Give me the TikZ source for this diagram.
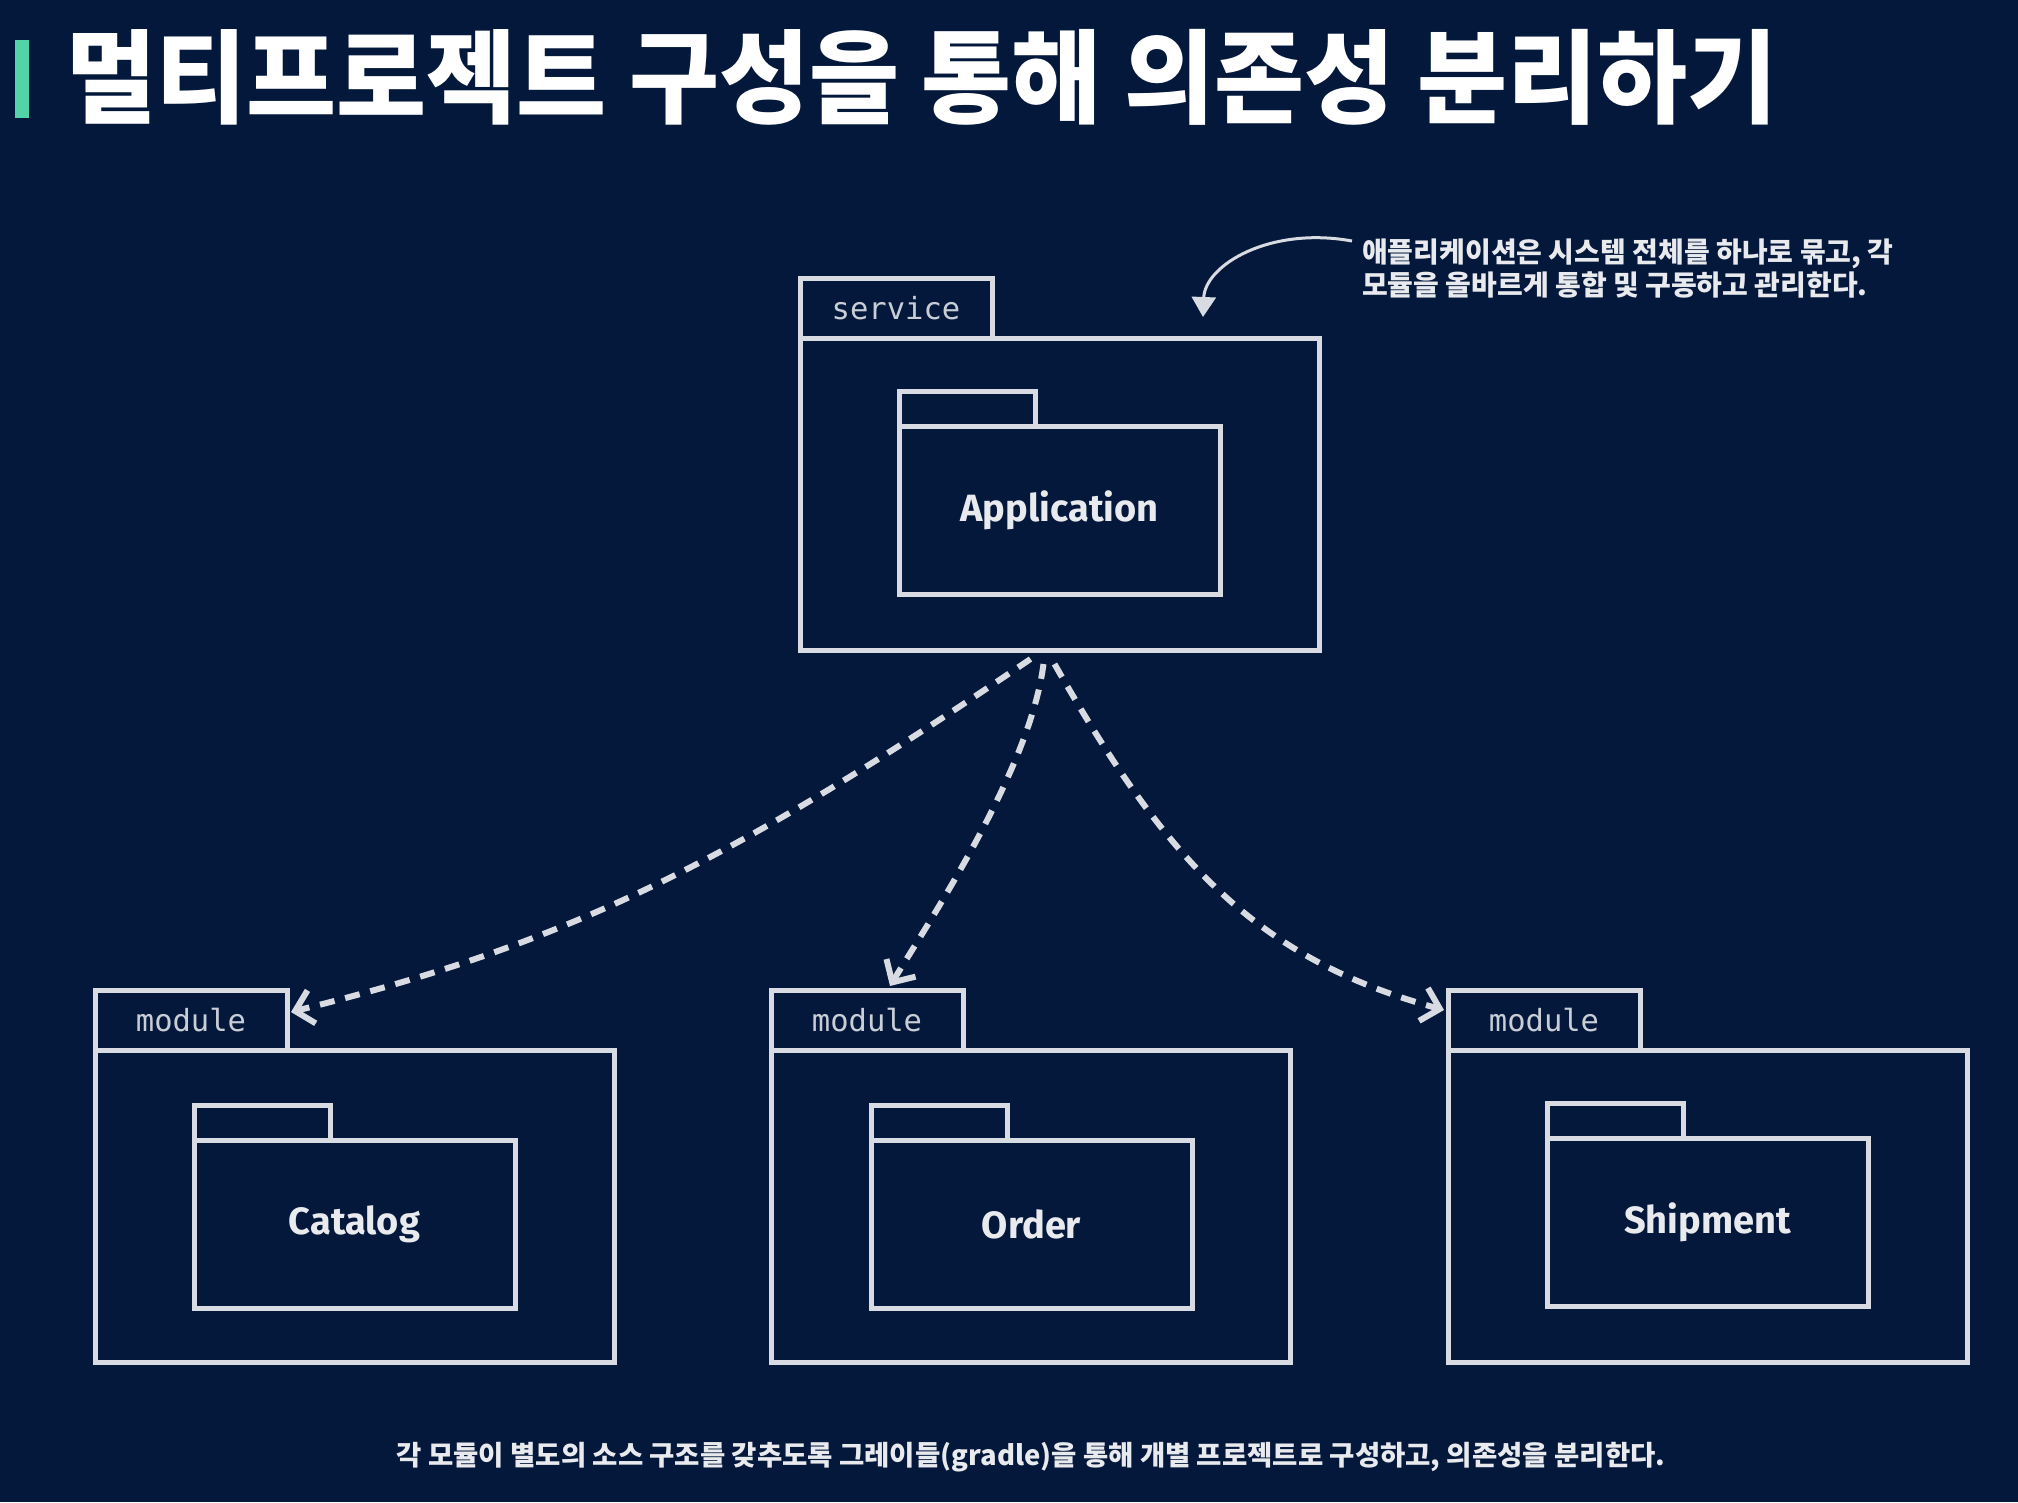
\documentclass[tikz,border=0pt]{standalone}
\usepackage{fontspec}
\usetikzlibrary{arrows.meta,calc}
\setmainfont{Noto Sans CJK KR}
\newfontfamily\krtitle[FakeStretch=0.96]{Noto Sans CJK KR}
\newfontfamily\kr{Noto Sans CJK KR}
\newfontfamily\lblfont{Fira Sans}
\newfontfamily\tabfont{DejaVu Sans Mono}
\definecolor{bg}{HTML}{03183B}
\definecolor{ln}{HTML}{D8DCE2}
\definecolor{lbl}{HTML}{E8EAEE}
\definecolor{tabtxt}{HTML}{C9CED6}
\definecolor{mint}{HTML}{53D3A8}
\begin{document}
\begin{tikzpicture}[x=1pt,y=-1pt,
  pkgmain/.style={draw=ln, line width=5pt, minimum width=519pt, minimum height=312pt, inner sep=0pt, outer sep=0pt, anchor=north west},
  pkgtab/.style={draw=ln, line width=5pt, minimum width=192pt, minimum height=60pt, inner sep=0pt, outer sep=0pt, anchor=south west, font={\tabfont\fontsize{30.5}{36}\selectfont}, text=tabtxt},
  innerpkg/.style={draw=ln, line width=5pt, minimum width=321pt, minimum height=168pt, inner sep=0pt, outer sep=0pt, anchor=north west, font={\lblfont\bfseries\fontsize{38}{44}\selectfont}, text=lbl},
  innertab/.style={draw=ln, line width=5pt, minimum width=136pt, minimum height=35pt, inner sep=0pt, outer sep=0pt, anchor=south west},
  dep/.style={draw=ln, line width=6pt, dash pattern=on 15pt off 11pt, -{Straight Barb[length=17pt,width=34pt]}},
  notearrow/.style={draw=ln, line width=3pt, -{Triangle[length=20pt,width=24pt]}},
]
\fill[bg] (0,0) rectangle (2018,1502);
\useasboundingbox (0,0) rectangle (2018,1502);

% title
\node[fill=mint, minimum width=14pt, minimum height=78pt, inner sep=0pt, outer sep=0pt, anchor=north west] (bar) at (15,40) {};
\node[anchor=west, inner sep=0pt, text=white, font={\krtitle\bfseries\fontsize{102}{110}\selectfont}] (title) at (66,77) {멀티프로젝트 구성을 통해 의존성 분리하기};

% service package
\node[pkgmain] (svc) at (800,338) {};
\node[pkgtab] (svctab) at (svc.north west) {service};
\node[innerpkg] (app) at ($(svc.north west)+(99,88)$) {Application};
\node[innertab] (apptab) at (app.north west) {};

% module packages
\node[pkgmain] (cat) at (95,1050) {};
\node[pkgtab] (cattab) at (cat.north west) {module};
\node[innerpkg] (catin) at ($(cat.north west)+(99,90)$) {Catalog};
\node[innertab] (catintab) at (catin.north west) {};

\node[pkgmain] (ord) at (771,1050) {};
\node[pkgtab] (ordtab) at (ord.north west) {module};
\node[innerpkg] (ordin) at ($(ord.north west)+(100,90)$) {Order};
\node[innertab] (ordintab) at (ordin.north west) {};

\node[pkgmain] (shp) at (1448,1050) {};
\node[pkgtab] (shptab) at (shp.north west) {module};
\node[innerpkg] (shpin) at ($(shp.north west)+(99,88)$) {Shipment};
\node[innertab] (shpintab) at (shpin.north west) {};

% dependency arrows
\coordinate (s1) at ($(svc.south)+(-29,9)$);
\coordinate (s2) at ($(svc.south)+(-16,14)$);
\coordinate (s3) at ($(svc.south)+(-5,14)$);
\coordinate (e1) at ($(cattab.east)+(4,-8)$);
\coordinate (e2) at ($(ordtab.north)+(23,-4)$);
\coordinate (e3) at ($(shptab.west)+(-4,-10)$);
\draw[dep] (s1) .. controls (720,870) and (560,945) .. (e1);
\draw[dep] (s2) .. controls (1030,770) and (930,920) .. (e2);
\draw[dep] (s3) .. controls (1164,856) and (1252,958) .. (e3);

% annotation
\node[anchor=west, align=left, inner sep=0pt, text=lbl, font={\kr\bfseries\fontsize{28}{33}\selectfont}] (note) at (1362,269) {애플리케이션은 시스템 전체를 하나로 묶고, 각\\모듈을 올바르게 통합 및 구동하고 관리한다.};
\coordinate (nstart) at ($(note.west)+(-10,-28)$);
\coordinate (ntip) at ($(svc.north east)+(-116,-21)$);
\draw[notearrow] (nstart) .. controls (1270,226) and (1205,265) .. (ntip);

% caption
\node[text=lbl, inner sep=0pt, font={\kr\bfseries\fontsize{27.5}{32}\selectfont}] (caption) at (1031,1457) {각 모듈이 별도의 소스 구조를 갖추도록 그레이들(gradle)을 통해 개별 프로젝트로 구성하고, 의존성을 분리한다.};
\end{tikzpicture}
\end{document}
